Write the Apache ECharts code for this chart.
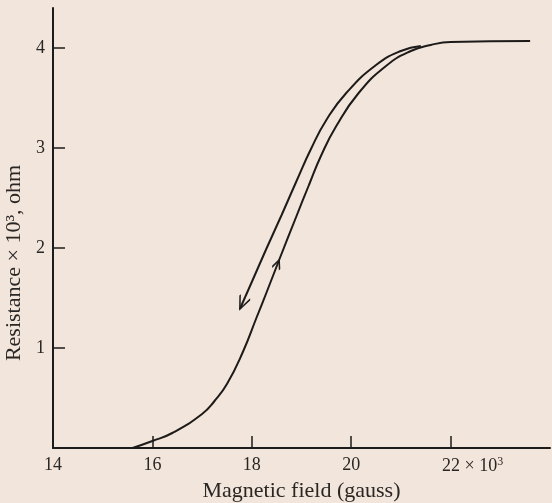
<!DOCTYPE html>
<html>
<head>
<meta charset="utf-8">
<script src="https://cdn.jsdelivr.net/npm/echarts@6/dist/echarts.min.js"></script>
<style>
html,body{margin:0;padding:0;background:#f2e5db;}
#main{width:552px;height:503px;}
</style>
</head>
<body>
<div id="main"></div>
<script>
// field in 10^3 gauss, resistance in 10^3 ohm
// rising field branch
var upField = [15.6, 16.0, 16.4, 17.0, 17.25, 17.5, 17.82, 18.1, 18.3, 18.55, 18.9, 19.15, 19.4, 19.7, 20.15, 20.7, 21.2, 21.6, 22.0, 23.6];
var upRes   = [0, 0.07, 0.15, 0.34, 0.47, 0.64, 0.96, 1.31, 1.56, 1.88, 2.32, 2.63, 2.93, 3.22, 3.55, 3.82, 3.97, 4.03, 4.06, 4.07];
// falling field branch
var downField = [21.4, 21.0, 20.5, 19.9, 19.5, 19.2, 18.9, 18.6, 18.3, 18.0, 17.76];
var downRes   = [4.02, 3.97, 3.83, 3.55, 3.28, 3.0, 2.67, 2.33, 2.0, 1.66, 1.39];

var xLabels = [14, 16, 18, 20, 22];
var xTicks = [16, 18, 20, 22];
var yTicks = [1, 2, 3, 4];
var upArrowIdx = 9; // where the arrow sits on the rising branch

var ink = '#1d1b1a';
var textColor = '#2a2624';
var font = '"Liberation Serif", "DejaVu Serif", serif';
// chevron with its tip at the centre of the box
var chevron = 'path://M0,-10 M-4,10 L0,0 L4,10';

function zip(xs, ys) {
    var out = [];
    for (var i = 0; i < xs.length; i++) out.push([xs[i], ys[i]]);
    return out;
}

var myChart = echarts.init(document.getElementById('main'));

var option = {
    animation: false,
    backgroundColor: '#f2e5db',
    grid: {left: 53, right: 2, top: 8, bottom: 55, containLabel: false, outerBoundsMode: 'none'},
    xAxis: {
        type: 'value',
        min: 14,
        max: 24,
        name: 'Magnetic field (gauss)',
        nameLocation: 'middle',
        nameGap: 25,
        nameTextStyle: {color: textColor, fontFamily: font, fontSize: 22},
        axisLine: {lineStyle: {color: ink, width: 2}},
        axisTick: {inside: true, length: 12, customValues: xTicks, lineStyle: {color: ink, width: 1.5}},
        axisLabel: {
            customValues: xLabels,
            color: textColor,
            fontFamily: font,
            fontSize: 18,
            margin: 8,
            formatter: function (v) {
                if (v === 22) return '{w|22 × 10}{s|3}';
                return v;
            },
            rich: {
                w: {padding: [0, 0, 0, 44], fontFamily: font, fontSize: 18, color: textColor},
                s: {fontFamily: font, fontSize: 12, color: textColor, verticalAlign: 'top', padding: [0, 0, 8, 0]}
            }
        },
        splitLine: {show: false}
    },
    yAxis: {
        type: 'value',
        min: 0,
        max: 4.4,
        name: 'Resistance × 10³, ohm',
        nameLocation: 'middle',
        nameGap: 21,
        nameTextStyle: {color: textColor, fontFamily: font, fontSize: 22, padding: [0, 70, 0, 0]},
        axisLine: {show: true, lineStyle: {color: ink, width: 2}},
        axisTick: {show: true, inside: true, length: 12, customValues: yTicks, lineStyle: {color: ink, width: 1.5}},
        axisLabel: {customValues: yTicks, color: textColor, fontFamily: font, fontSize: 18, margin: 8},
        splitLine: {show: false}
    },
    series: [
        {
            name: 'rising',
            type: 'line',
            data: zip(upField, upRes),
            smooth: 0.5,
            symbol: 'none',
            lineStyle: {color: ink, width: 2}
        },
        {
            name: 'falling',
            type: 'line',
            data: zip(downField, downRes),
            smooth: 0.5,
            symbol: 'none',
            lineStyle: {color: ink, width: 2}
        },
        {
            name: 'arrows',
            type: 'scatter',
            data: [],
            silent: true
        }
    ]
};
myChart.setOption(option);

// point the arrows along their branch
function angleAt(a, b) {
    var p = myChart.convertToPixel({gridIndex: 0}, a);
    var q = myChart.convertToPixel({gridIndex: 0}, b);
    var dx = q[0] - p[0], dy = q[1] - p[1];
    return Math.atan2(-dx, -dy) * 180 / Math.PI;
}
var n = downField.length;
var upRot = angleAt([upField[upArrowIdx - 1], upRes[upArrowIdx - 1]], [upField[upArrowIdx + 1], upRes[upArrowIdx + 1]]);
var downRot = angleAt([downField[n - 2], downRes[n - 2]], [downField[n - 1], downRes[n - 1]]);

myChart.setOption({
    series: [{}, {}, {
        name: 'arrows',
        data: [
            {value: [upField[upArrowIdx], upRes[upArrowIdx]], symbolRotate: upRot, symbolSize: [8, 18]},
            {value: [downField[n - 1], downRes[n - 1]], symbolRotate: downRot, symbolSize: [11, 26]}
        ],
        symbol: chevron,
        itemStyle: {color: 'none', borderColor: ink, borderWidth: 1.8, opacity: 1}
    }]
});
</script>
</body>
</html>
